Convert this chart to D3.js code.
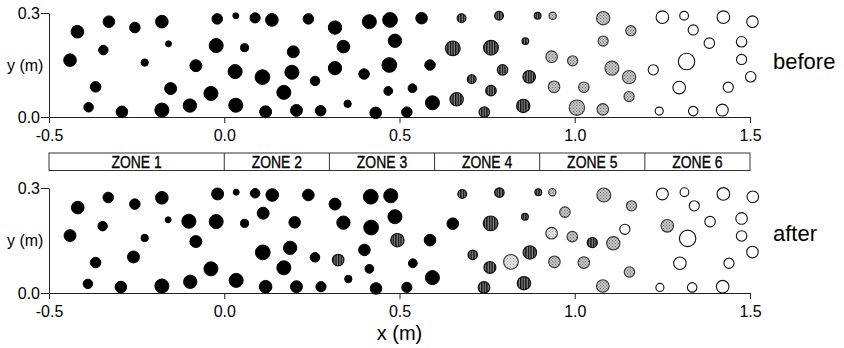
<!DOCTYPE html>
<html>
<head>
<meta charset="utf-8">
<script src="https://cdn.jsdelivr.net/npm/d3@7"></script>
<style>
  html, body { margin: 0; padding: 0; background: #fff; }
  svg { display: block; font-family: Arial, "Liberation Sans", sans-serif; }
</style>
</head>
<body>
<svg id="chart" width="844" height="348"></svg>
<script>
// ---- data (x, y in metres, d = particle diameter in metres, class) ----
// class: B = black (zones 1-3), H = hatched (zone 4), L = stippled (zone 5), P = pale stippled, W = white (zone 6)
const xTicks = [-0.5, 0.0, 0.5, 1.0, 1.5];
const xTickLabels = ["-0.5", "0.0", "0.5", "1.0", "1.5"];
const yTicks = [0.0, 0.3];
const yTickLabels = ["0.0", "0.3"];
const zoneEdges = [-0.5, 0.0, 0.3, 0.6, 0.9, 1.2, 1.5];
const zoneLabels = ["ZONE 1", "ZONE 2", "ZONE 3", "ZONE 4", "ZONE 5", "ZONE 6"];
const panelNames = ["before", "after"];

const beforeParticles = [
  [-0.419, 0.246, 0.036, "B"], [-0.329, 0.275, 0.033, "B"], [-0.255, 0.258, 0.030, "B"],
  [-0.178, 0.275, 0.036, "B"], [-0.020, 0.283, 0.030, "B"], [0.033, 0.292, 0.017, "B"],
  [0.088, 0.286, 0.029, "B"], [0.136, 0.280, 0.036, "B"], [-0.345, 0.193, 0.027, "B"],
  [-0.159, 0.211, 0.017, "B"], [-0.023, 0.206, 0.040, "B"], [0.058, 0.200, 0.023, "B"],
  [0.197, 0.188, 0.034, "B"], [-0.440, 0.164, 0.036, "B"], [-0.227, 0.157, 0.021, "B"],
  [-0.081, 0.148, 0.034, "B"], [0.031, 0.131, 0.040, "B"], [0.109, 0.115, 0.042, "B"],
  [0.193, 0.129, 0.040, "B"], [-0.367, 0.087, 0.030, "B"], [-0.153, 0.082, 0.034, "B"],
  [-0.038, 0.068, 0.040, "B"], [0.170, 0.071, 0.040, "B"], [-0.387, 0.028, 0.027, "B"],
  [-0.292, 0.015, 0.033, "B"], [-0.178, 0.020, 0.040, "B"], [-0.098, 0.033, 0.038, "B"],
  [0.033, 0.034, 0.040, "B"], [0.118, 0.015, 0.034, "B"], [0.206, 0.019, 0.034, "B"],
  [0.240, 0.283, 0.030, "B"], [0.316, 0.258, 0.038, "B"], [0.414, 0.275, 0.040, "B"],
  [0.473, 0.280, 0.042, "B"], [0.563, 0.285, 0.033, "B"], [0.677, 0.285, 0.025, "H"],
  [0.784, 0.292, 0.025, "H"], [0.894, 0.292, 0.019, "H"], [0.937, 0.292, 0.021, "L"],
  [0.340, 0.203, 0.036, "B"], [0.487, 0.220, 0.038, "B"], [0.652, 0.198, 0.042, "H"],
  [0.761, 0.200, 0.042, "H"], [0.859, 0.219, 0.019, "H"], [0.934, 0.174, 0.033, "L"],
  [0.994, 0.162, 0.029, "L"], [0.316, 0.141, 0.038, "B"], [0.399, 0.124, 0.030, "B"],
  [0.471, 0.150, 0.042, "B"], [0.587, 0.150, 0.030, "B"], [0.794, 0.136, 0.030, "H"],
  [0.870, 0.116, 0.036, "H"], [0.259, 0.104, 0.027, "B"], [0.706, 0.109, 0.025, "H"],
  [0.468, 0.075, 0.025, "B"], [0.537, 0.083, 0.025, "B"], [0.761, 0.076, 0.030, "H"],
  [0.941, 0.087, 0.033, "L"], [0.275, 0.018, 0.030, "B"], [0.352, 0.038, 0.021, "B"],
  [0.432, 0.012, 0.033, "B"], [0.521, 0.014, 0.030, "B"], [0.594, 0.041, 0.040, "B"],
  [0.663, 0.051, 0.038, "H"], [0.742, 0.014, 0.030, "H"], [0.853, 0.032, 0.038, "H"],
  [1.081, 0.285, 0.038, "L"], [1.160, 0.249, 0.029, "L"], [1.081, 0.219, 0.029, "L"],
  [1.106, 0.141, 0.040, "L"], [1.155, 0.115, 0.038, "L"], [1.026, 0.086, 0.030, "L"],
  [1.155, 0.059, 0.029, "L"], [1.006, 0.027, 0.044, "L"], [1.080, 0.022, 0.033, "L"],
  [1.250, 0.288, 0.036, "W"], [1.312, 0.292, 0.025, "W"], [1.424, 0.288, 0.036, "W"],
  [1.507, 0.275, 0.033, "W"], [1.338, 0.251, 0.029, "W"], [1.384, 0.213, 0.030, "W"],
  [1.476, 0.217, 0.030, "W"], [1.476, 0.166, 0.029, "W"], [1.319, 0.160, 0.047, "W"],
  [1.224, 0.136, 0.029, "W"], [1.502, 0.116, 0.030, "W"], [1.298, 0.085, 0.036, "W"],
  [1.438, 0.086, 0.029, "W"], [1.241, 0.017, 0.023, "W"], [1.338, 0.017, 0.027, "W"],
  [1.421, 0.020, 0.034, "W"]
];

const afterParticles = [
  [-0.418, 0.244, 0.036, "B"], [-0.331, 0.273, 0.030, "B"], [-0.255, 0.254, 0.030, "B"],
  [-0.178, 0.272, 0.036, "B"], [-0.019, 0.283, 0.034, "B"], [0.034, 0.288, 0.017, "B"],
  [0.088, 0.285, 0.027, "B"], [0.137, 0.280, 0.036, "B"], [0.111, 0.228, 0.034, "B"],
  [-0.347, 0.191, 0.027, "B"], [-0.160, 0.209, 0.017, "B"], [-0.101, 0.205, 0.040, "B"],
  [-0.023, 0.204, 0.040, "B"], [0.058, 0.199, 0.023, "B"], [0.201, 0.202, 0.033, "B"],
  [-0.440, 0.164, 0.034, "B"], [-0.227, 0.157, 0.021, "B"], [-0.081, 0.147, 0.034, "B"],
  [0.110, 0.116, 0.042, "B"], [0.188, 0.129, 0.038, "B"], [-0.367, 0.087, 0.030, "B"],
  [-0.259, 0.103, 0.034, "B"], [-0.038, 0.069, 0.040, "B"], [0.170, 0.072, 0.040, "B"],
  [-0.389, 0.026, 0.027, "B"], [-0.295, 0.017, 0.033, "B"], [-0.178, 0.020, 0.040, "B"],
  [-0.097, 0.032, 0.038, "B"], [0.034, 0.036, 0.040, "B"], [0.118, 0.018, 0.036, "B"],
  [0.206, 0.018, 0.034, "B"], [0.240, 0.280, 0.033, "B"], [0.316, 0.254, 0.034, "B"],
  [0.418, 0.275, 0.042, "B"], [0.475, 0.278, 0.040, "B"], [0.679, 0.283, 0.025, "H"],
  [0.785, 0.287, 0.027, "H"], [0.896, 0.288, 0.019, "H"], [0.936, 0.288, 0.021, "L"],
  [0.340, 0.201, 0.038, "B"], [0.419, 0.187, 0.042, "B"], [0.487, 0.218, 0.040, "B"],
  [0.652, 0.198, 0.033, "B"], [0.760, 0.199, 0.042, "H"], [0.858, 0.218, 0.019, "H"],
  [0.972, 0.231, 0.030, "L"], [0.934, 0.171, 0.033, "P"], [0.993, 0.161, 0.030, "L"],
  [0.494, 0.151, 0.038, "H"], [0.587, 0.151, 0.033, "B"], [0.259, 0.102, 0.027, "B"],
  [0.325, 0.094, 0.033, "H"], [0.400, 0.123, 0.033, "B"], [0.709, 0.109, 0.027, "H"],
  [0.872, 0.116, 0.038, "H"], [0.818, 0.089, 0.042, "P"], [0.758, 0.073, 0.034, "H"],
  [0.942, 0.089, 0.033, "L"], [0.414, 0.069, 0.025, "B"], [0.538, 0.085, 0.025, "B"],
  [0.276, 0.018, 0.029, "B"], [0.354, 0.040, 0.021, "B"], [0.433, 0.013, 0.033, "B"],
  [0.521, 0.016, 0.029, "B"], [0.594, 0.044, 0.040, "B"], [0.741, 0.016, 0.033, "H"],
  [0.855, 0.028, 0.038, "H"], [1.083, 0.280, 0.040, "L"], [1.162, 0.249, 0.029, "L"],
  [1.050, 0.144, 0.029, "H"], [1.110, 0.142, 0.038, "L"], [1.143, 0.182, 0.029, "W"],
  [1.026, 0.087, 0.033, "L"], [1.156, 0.060, 0.030, "L"], [1.080, 0.020, 0.036, "L"],
  [1.264, 0.192, 0.036, "L"],
  [1.250, 0.283, 0.034, "W"], [1.313, 0.288, 0.025, "W"], [1.424, 0.283, 0.036, "W"],
  [1.508, 0.275, 0.033, "W"], [1.341, 0.249, 0.029, "W"], [1.386, 0.204, 0.030, "W"],
  [1.476, 0.213, 0.033, "W"], [1.476, 0.163, 0.030, "W"], [1.322, 0.156, 0.047, "W"],
  [1.507, 0.117, 0.033, "W"], [1.300, 0.085, 0.036, "W"], [1.440, 0.085, 0.029, "W"],
  [1.243, 0.016, 0.023, "W"], [1.335, 0.016, 0.027, "W"], [1.422, 0.018, 0.036, "W"]
];

// ---- drawing ----
const svg = d3.select("#chart");
const x = d3.scaleLinear().domain([-0.5, 1.5]).range([49, 750]);
// particle diameter drawn to the same metric scale as x
const rScale = d3.scaleLinear().domain([0, 1]).range([0, (x(1) - x(0)) / 2]);

const defs = svg.append("defs");
const hatch = defs.append("pattern").attr("id", "hatch")
  .attr("patternUnits", "userSpaceOnUse").attr("width", 2.6).attr("height", 4);
hatch.append("rect").attr("width", 2.6).attr("height", 4).attr("fill", "#8a8a8a");
hatch.append("rect").attr("width", 1.4).attr("height", 4).attr("fill", "#111");

function stipple(id, bg, dot) {
  const p = defs.append("pattern").attr("id", id)
    .attr("patternUnits", "userSpaceOnUse").attr("width", 3).attr("height", 3);
  p.append("rect").attr("width", 3).attr("height", 3).attr("fill", bg);
  p.append("rect").attr("x", 0).attr("y", 0).attr("width", 1).attr("height", 1).attr("fill", dot);
  p.append("rect").attr("x", 1.5).attr("y", 1.5).attr("width", 1).attr("height", 1).attr("fill", dot);
}
stipple("stip", "#c8c8c8", "#6a6a6a");
stipple("stipPale", "#e8e8e8", "#999");

const styleOf = {
  B: { fill: "#000", stroke: "#000", sw: 1.0 },
  H: { fill: "url(#hatch)", stroke: "#111", sw: 1.2 },
  L: { fill: "url(#stip)", stroke: "#333", sw: 1.1 },
  P: { fill: "url(#stipPale)", stroke: "#333", sw: 1.1 },
  W: { fill: "#fff", stroke: "#111", sw: 1.1 }
};

const panels = [
  { name: panelNames[0], data: beforeParticles, yRange: [117, 13], labelY: 69 },
  { name: panelNames[1], data: afterParticles, yRange: [293, 188], labelY: 241 }
];

panels.forEach(p => {
  const y = d3.scaleLinear().domain([0, 0.3]).range(p.yRange);
  const g = svg.append("g");

  // axes
  const xAxis = d3.axisBottom(x).tickValues(xTicks)
    .tickFormat((d, i) => xTickLabels[i]).tickSize(6).tickSizeOuter(0).tickPadding(7);
  const gx = g.append("g").attr("transform", `translate(0,${y(0)})`).call(xAxis);
  const yAxis = d3.axisLeft(y).tickValues(yTicks)
    .tickFormat((d, i) => yTickLabels[i]).tickSize(8).tickSizeOuter(0).tickPadding(1);
  const gy = g.append("g").attr("transform", `translate(${x(-0.5)},0)`).call(yAxis);
  [gx, gy].forEach(a => {
    a.selectAll("path").attr("stroke", "#222").attr("stroke-width", 1);
    a.selectAll("line").attr("stroke", "#222").attr("stroke-width", 1);
    a.selectAll("text").attr("font-size", 16).attr("fill", "#000")
      .attr("font-family", "Arial, 'Liberation Sans', sans-serif");
  });

  // particles
  g.append("g").selectAll("circle").data(p.data).join("circle")
    .attr("cx", d => x(d[0]))
    .attr("cy", d => y(d[1]))
    .attr("r", d => rScale(d[2]))
    .attr("fill", d => styleOf[d[3]].fill)
    .attr("stroke", d => styleOf[d[3]].stroke)
    .attr("stroke-width", d => styleOf[d[3]].sw);

  // y label
  g.append("text").attr("x", 7).attr("y", (p.yRange[0] + p.yRange[1]) / 2)
    .attr("dy", "0.35em").attr("font-size", 16).text("y (m)");

  // panel label
  g.append("text").attr("x", 773).attr("y", p.labelY)
    .attr("font-size", 22).text(p.name);
});

// zone bar
const zoneTop = 153, zoneBot = 170.5;
const zg = svg.append("g");
zg.append("rect").attr("x", x(zoneEdges[0])).attr("y", zoneTop)
  .attr("width", x(zoneEdges[zoneEdges.length - 1]) - x(zoneEdges[0]))
  .attr("height", zoneBot - zoneTop)
  .attr("fill", "#fff").attr("stroke", "#333").attr("stroke-width", 1);
zg.selectAll("line.div").data(zoneEdges.slice(1, -1)).join("line")
  .attr("class", "div")
  .attr("x1", d => x(d)).attr("x2", d => x(d))
  .attr("y1", zoneTop).attr("y2", zoneBot)
  .attr("stroke", "#333").attr("stroke-width", 1);
zg.selectAll("text").data(zoneLabels).join("text")
  .attr("transform", (d, i) => `translate(${(x(zoneEdges[i]) + x(zoneEdges[i + 1])) / 2},167.5) scale(0.82,1)`)
  .attr("text-anchor", "middle").attr("font-size", 17)
  .attr("stroke", "#000").attr("stroke-width", 0.35).text(d => d);

// x label
svg.append("text").attr("x", x(0.5)).attr("y", 340)
  .attr("text-anchor", "middle").attr("font-size", 20).text("x (m)");
</script>
</body>
</html>
